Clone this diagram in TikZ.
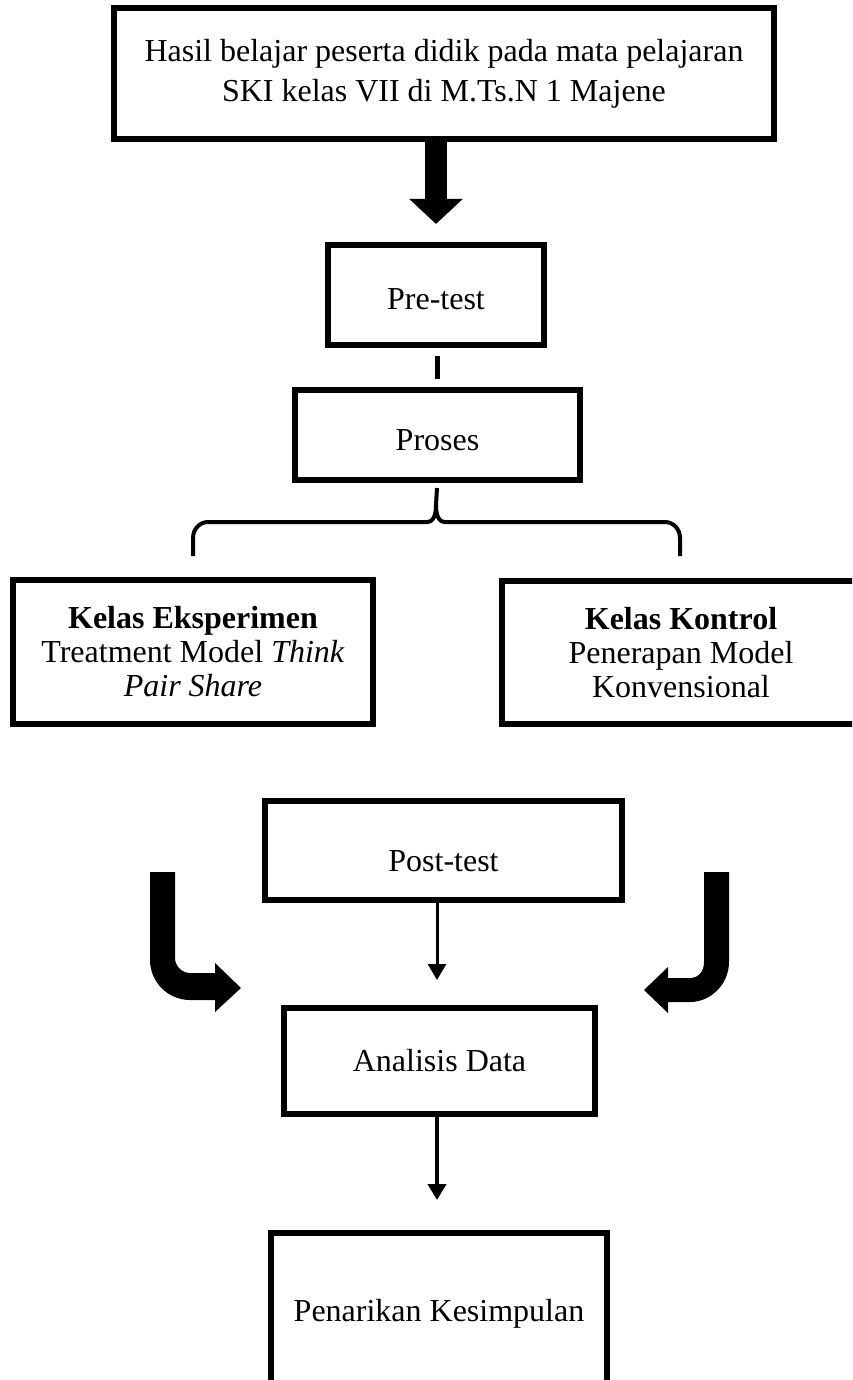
\documentclass[tikz,border=0pt]{standalone}
\usepackage{fontspec}
\setmainfont{Liberation Serif}
\usetikzlibrary{arrows.meta}
\begin{document}
\begin{tikzpicture}[x=0.5pt,y=-0.5pt,
  box/.style={draw, line width=3pt, rectangle, inner sep=0pt, align=center,
    font=\fontsize{16}{20}\selectfont},
  kbox/.style={box, font=\fontsize{16}{17}\selectfont},
  thinarrow/.style={line width=1.5pt, -{Triangle[width=9pt,length=8pt]}},
  bigfill/.style={fill=black, draw=none},
  bracepath/.style={line width=2pt}]
\useasboundingbox (0,0) rectangle (852,1380);
\clip (0,0) rectangle (852,1380);
\coordinate (col) at (437,0);

\node[box, minimum width=330pt, minimum height=65.5pt] (top) at (444,73.5)
  {Hasil belajar peserta didik pada mata pelajaran\\SKI kelas VII di M.Ts.N 1 Majene};
\node[box, minimum width=108pt, minimum height=50pt, text height=15pt] (pretest) at (436,295) {Pre-test};
\node[box, minimum width=142.5pt, minimum height=45pt, text height=16pt] (proses) at (437.5,435) {Proses};
\node[kbox, minimum width=180pt, minimum height=72pt] (eksp) at (193,652)
  {\textbf{Kelas Eksperimen}\\Treatment Model \textit{Think}\\\textit{Pair Share}};
\node[kbox, minimum width=179pt, minimum height=71.5pt] (kontrol) at (681,652.5)
  {\textbf{Kelas Kontrol}\\Penerapan Model\\Konvensional};
\node[box, minimum width=178.5pt, minimum height=49.5pt, text height=21pt] (post) at (443.5,850.5) {Post-test};
\node[box, minimum width=155.5pt, minimum height=53pt] (analisis) at (439.5,1061) {Analisis Data};
\node[box, minimum width=168pt, minimum height=81pt] (penarikan) at (439,1314) {Penarikan Kesimpulan};

% big arrow
\draw[line width=11pt, -{Triangle[width=26pt,length=12.5pt]}, shorten >=9pt]
  (pretest.north |- top.south) -- (pretest.north);
% pre-test to proses
\draw[line width=2.5pt, shorten <=4pt, shorten >=4pt] (pretest.south -| col) -- (proses.north -| col);
% brace
\coordinate (tip) at (proses.south -| col);
\draw[bracepath]
  (193,556) -- (193,538) to[out=90,in=180] (208,522) -- (427,522)
  to[out=0,in=-90] (436,505) -- ([yshift=-2.5pt]tip);
\draw[bracepath]
  (436,505) to[out=-90,in=180] (445,522) -- (665,522)
  to[out=0,in=90] (680,538) -- (680,556);
% thin arrows
\draw[thinarrow, shorten >=12.5pt] (post.south -| col) -- (analisis.north -| col);
\draw[thinarrow, line width=2pt, shorten >=15pt] (analisis.south -| col) -- (penarikan.north -| col);
% curved thick arrows
\fill[bigfill] (150,872) -- (150,960) .. controls (150,982) and (168,1000) .. (190,1000)
  -- (215,1000) -- (215,1012) -- (241,988) -- (215,963) -- (215,973) -- (190,973)
  .. controls (182,973) and (175,966) .. (175,958) -- (175,872) -- cycle;
\fill[bigfill] (729,872) -- (729,962) .. controls (729,984) and (711,1002) .. (690,1002)
  -- (668,1002) -- (668,1013) -- (644,990) -- (668,967) -- (668,978) -- (690,978)
  .. controls (698,978) and (704,972) .. (704,962) -- (704,872) -- cycle;
\end{tikzpicture}
\end{document}
